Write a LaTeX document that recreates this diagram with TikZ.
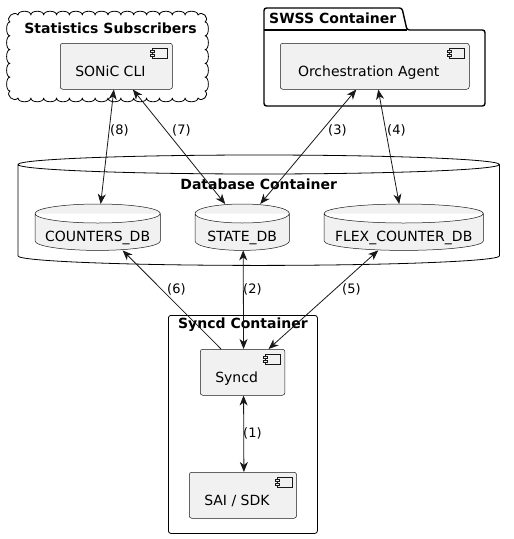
\documentclass[tikz,border=0pt]{standalone}
\usepackage{fontspec}
\setmainfont{DejaVu Sans}
\usepackage{tikz}
\usetikzlibrary{arrows.meta,calc,backgrounds}

\definecolor{umlline}{HTML}{181818}
\definecolor{umlfill}{HTML}{F1F1F1}

\tikzset{
    comp/.style={draw=umlline, line width=0.5pt, fill=umlfill, rounded corners=2.5pt,
        anchor=north west, inner xsep=15pt, inner ysep=0pt,
        text height=33pt, text depth=13pt, font=\fontsize{14}{16}\selectfont,
        execute at end node={\hspace{12pt}}},
    db/.style={anchor=north west, inner xsep=10pt, inner ysep=0pt,
        text height=37pt, text depth=9pt, font=\fontsize{14}{16}\selectfont},
    title/.style={inner sep=0pt, font=\bfseries\fontsize{14}{16}\selectfont},
    dbbox/.style={title, anchor=north west, minimum width=481,
        text height=34pt, text depth=76pt},
    syncdbox/.style={title, draw=black, line width=0.8pt, rounded corners=2.5pt,
        anchor=north west, minimum width=149, text height=13pt, text depth=205pt},
    icon/.style={draw=umlline, line width=0.5pt, fill=umlfill},
    link/.style={draw=umlline, line width=0.8pt},
    lbl/.style={anchor=west, inner sep=0pt, font=\fontsize{13}{15}\selectfont}
}

\begin{document}
\begin{tikzpicture}[x=1pt, y=-1pt, >={Stealth[length=10pt, width=8pt, inset=3pt]}]

    %% Background
    \useasboundingbox (0,0) rectangle (514,539);

    % Statistics Subscribers cloud
    \draw[line width=0.8pt, line join=round]
        (10,22) .. controls +(-5,-4) and +(-4,-5) .. (18,15)
        foreach \i in {1,...,14} { .. controls +(0,-5) and +(0,-5) .. ({18+\i*180/14},15) }
        .. controls +(4,-5) and +(5,-4) .. (205,22)
        foreach \i in {1,...,5} { .. controls +(4.5,0) and +(4.5,0) .. (205,{22+\i*69/5}) }
        .. controls +(5,4) and +(4,5) .. (198,98)
        foreach \i in {1,...,14} { .. controls +(0,5) and +(0,5) .. ({198-\i*180/14},98) }
        .. controls +(-4,5) and +(-5,4) .. (10,91)
        foreach \i in {1,...,5} { .. controls +(-4.5,0) and +(-4.5,0) .. (10,{91-\i*69/5}) };
    \node[title, anchor=base] (stattitle) at (110.5,33) {Statistics Subscribers};

    % SWSS package
    \draw[line width=1.4pt, rounded corners=2.5pt]
        (264,106) -- (264,8) -- (402,8) -- (407,30) -- (485,30) -- (485,106) -- cycle;
    \draw[line width=1.4pt] (264,30) -- (407,30);
    \node[title, anchor=base west] (swsstitle) at (269,23) {SWSS Container};

    % Containers
    \node[dbbox] (dbcont) at (18,155) {Database Container};
    \node[syncdbox] (syncdcont) at (168,315) {Syncd Container};

    % Components
    \node[comp, minimum width=111] (cli) at (60,43) {SONiC CLI};
    \node[comp, minimum width=189] (orch) at (280,43) {Orchestration Agent};
    \node[comp, minimum width=83] (syncd) at (200,349) {Syncd};
    \node[comp, minimum width=106] (sai) at (189,472) {SAI / SDK};

    \foreach \c in {cli,orch,syncd,sai}
    {
    \draw[icon] ([shift={(-20,5)}]\c.north east) rectangle ([shift={(-5,15)}]\c.north east);
    \draw[icon] ([shift={(-22,7)}]\c.north east) rectangle ([shift={(-18,9)}]\c.north east);
    \draw[icon] ([shift={(-22,11)}]\c.north east) rectangle ([shift={(-18,13)}]\c.north east);
    }

    % Databases
    \node[db, minimum width=124] (counters) at (35,204) {COUNTERS\_DB};
    \node[db, minimum width=94] (state) at (195,204) {STATE\_DB};
    \node[db, minimum width=159] (flex) at (324,204) {FLEX\_COUNTER\_DB};

    \begin{scope}[on background layer]
    \foreach \db/\fc/\lc/\lw in {dbcont/white/black/0.8pt, counters/umlfill/umlline/0.5pt,
                                  state/umlfill/umlline/0.5pt, flex/umlfill/umlline/0.5pt}
    {
    \draw[draw=\lc, fill=\fc, line width=\lw]
        let \p1=(\db.north west), \p2=(\db.south east), \n1={(\x2-\x1)/2} in
        ([yshift=-9.5pt]\db.north west)
            arc[start angle=180, end angle=0, x radius=\n1, y radius=9.5pt]
        -- ([yshift=9.5pt]\db.south east)
            arc[start angle=0, end angle=-180, x radius=\n1, y radius=9.5pt] -- cycle
        ([yshift=-9.5pt]\db.north west)
            arc[start angle=180, end angle=360, x radius=\n1, y radius=9.5pt];
    }
    \end{scope}

    % Connectors
    \draw[link, <->] ([xshift=-2.5pt]cli.south) -- ([xshift=3pt]counters.north);
    \draw[link, <->] ([xshift=16.5pt]cli.south) -- ([xshift=-17pt]state.north);
    \draw[link, <->] ([xshift=-18.5pt]orch.south) -- ([xshift=18pt]state.north);
    \draw[link, <->] ([xshift=3.5pt]orch.south) -- ([xshift=-4.5pt]flex.north);
    \draw[link, ->] ([xshift=-21.5pt]syncd.north) -- ([xshift=25pt]counters.south);
    \draw[link, <->] ([xshift=1pt]syncd.north) -- ([xshift=1pt]state.south);
    \draw[link, <->] ([xshift=26pt]syncd.north) -- ([xshift=-25.5pt]flex.south);
    \draw[link, <->] ([xshift=1pt]syncd.south) -- ([xshift=1pt]sai.north);

    \path
    (110,130) node[lbl] (l8) {(8)}
    (172,130) node[lbl] (l7) {(7)}
    (328,130) node[lbl] (l3) {(3)}
    (387,130) node[lbl] (l4) {(4)}
    (167,289) node[lbl] (l6) {(6)}
    (243,289) node[lbl] (l2) {(2)}
    (342,289) node[lbl] (l5) {(5)}
    (243,433) node[lbl] (l1) {(1)}
    ;

\end{tikzpicture}
\end{document}
